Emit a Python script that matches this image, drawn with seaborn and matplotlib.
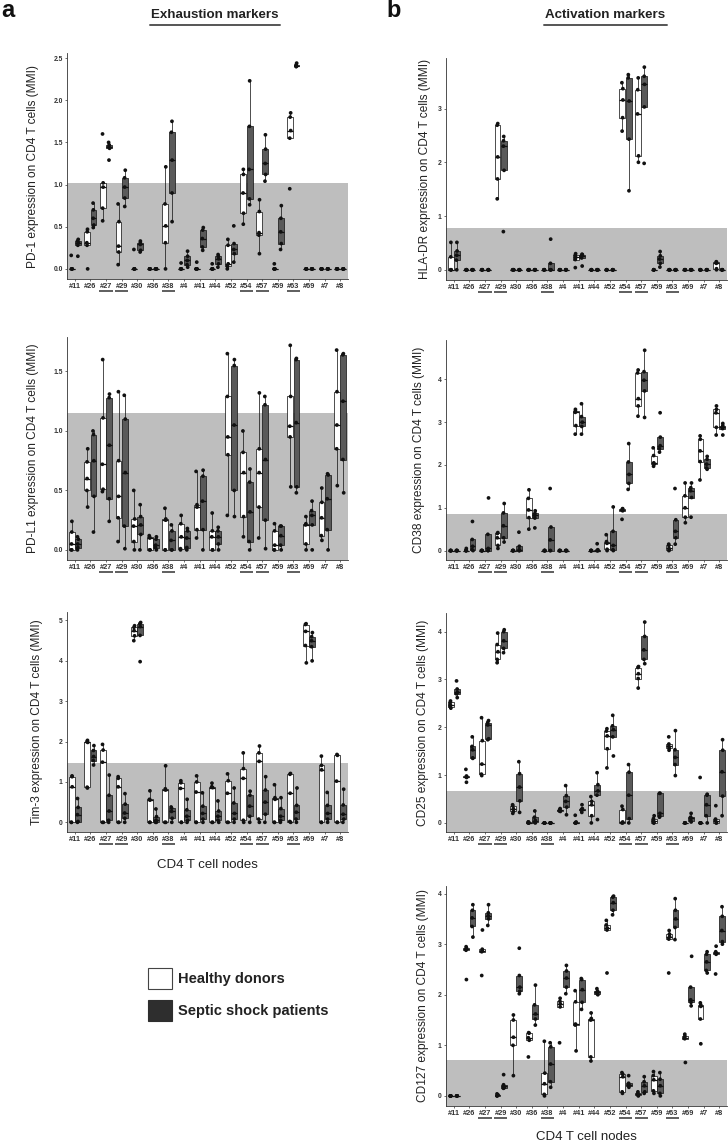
import numpy as np
import pandas as pd
import matplotlib
matplotlib.use("Agg")
import matplotlib.pyplot as plt
import matplotlib.transforms as mtransforms
from matplotlib.lines import Line2D
from matplotlib.patches import Rectangle
from matplotlib.ticker import FormatStrFormatter
import seaborn as sns

# ---------------- data ----------------
NODES = ["#11", "#26", "#27", "#29", "#30", "#36", "#38", "#4", "#41", "#44",
         "#52", "#54", "#57", "#59", "#63", "#69", "#7", "#8"]
UNDERLINED = ["#27", "#29", "#38", "#54", "#57", "#63"]
GROUPS = ["Healthy donors", "Septic shock patients"]

PD1_H = [[0, 0, 0, 0, 0.16], [0, 0.28, 0.31, 0.44, 0.47], [0.57, 0.72, 0.97, 1.02, 1.6],
         [0.05, 0.2, 0.27, 0.56, 0.77], [0, 0, 0, 0, 0.23], [0, 0, 0, 0, 0],
         [0, 0.31, 0.51, 0.77, 1.21], [0, 0, 0, 0, 0.07], [0, 0, 0, 0, 0.08],
         [0, 0, 0, 0, 0.06], [0, 0.03, 0.06, 0.28, 0.35], [0.53, 0.66, 0.9, 1.12, 1.18],
         [0.18, 0.4, 0.43, 0.68, 0.82], [0, 0, 0, 0, 0.06], [0.95, 1.55, 1.64, 1.8, 1.85],
         [0, 0, 0, 0, 0], [0, 0, 0, 0, 0], [0, 0, 0, 0, 0]]
PD1_S = [[0.15, 0.28, 0.31, 0.33, 0.35], [0.49, 0.52, 0.6, 0.7, 0.78], [1.29, 1.43, 1.45, 1.47, 1.5],
         [0.74, 0.84, 0.97, 1.08, 1.17], [0.2, 0.22, 0.29, 0.31, 0.33], [0, 0, 0, 0, 0],
         [0.56, 0.9, 1.29, 1.62, 1.75], [0.02, 0.05, 0.1, 0.15, 0.21], [0.22, 0.26, 0.36, 0.46, 0.49],
         [0.02, 0.06, 0.12, 0.15, 0.17], [0.08, 0.18, 0.23, 0.3, 0.51], [0.76, 0.83, 1.18, 1.69, 2.23],
         [1.04, 1.12, 1.25, 1.42, 1.59], [0.23, 0.3, 0.44, 0.6, 0.75], [2.4, 2.4, 2.41, 2.42, 2.44],
         [0, 0, 0, 0, 0], [0, 0, 0, 0, 0], [0, 0, 0, 0, 0]]

PDL1_H = [[0, 0, 0.05, 0.15, 0.24], [0.36, 0.5, 0.6, 0.74, 0.85], [0.49, 0.51, 0.72, 1.11, 1.6],
          [0.07, 0.27, 0.45, 0.75, 1.33], [0, 0.07, 0.2, 0.26, 0.5], [0, 0, 0.1, 0.11, 0.12],
          [0, 0, 0.25, 0.26, 0.35], [0, 0.01, 0.11, 0.22, 0.29], [0.1, 0.17, 0.36, 0.38, 0.66],
          [0, 0, 0.11, 0.16, 0.31], [0.29, 0.8, 0.95, 1.29, 1.65], [0.11, 0.28, 0.65, 0.82, 1.0],
          [0.1, 0.36, 0.65, 0.85, 1.32], [0, 0, 0.04, 0.16, 0.22], [0.53, 0.95, 1.04, 1.29, 1.72],
          [0, 0.05, 0.21, 0.22, 0.28], [0.08, 0.12, 0.27, 0.4, 0.52], [0.54, 0.85, 1.05, 1.33, 1.68]]
PDL1_S = [[0, 0.02, 0.05, 0.09, 0.11], [0.15, 0.45, 0.75, 0.97, 1.0], [0.24, 0.43, 0.88, 1.28, 1.31],
          [0.01, 0.2, 0.65, 1.1, 1.3], [0, 0.13, 0.21, 0.28, 0.38], [0, 0.02, 0.04, 0.09, 0.11],
          [0, 0, 0.08, 0.16, 0.21], [0, 0.02, 0.1, 0.16, 0.18], [0, 0.17, 0.41, 0.62, 0.67],
          [0, 0.05, 0.11, 0.16, 0.19], [0.28, 0.5, 1.05, 1.55, 1.6], [0, 0.07, 0.32, 0.57, 0.68],
          [0.01, 0.25, 0.76, 1.22, 1.29], [0, 0.04, 0.12, 0.2, 0.2], [0.48, 0.53, 1.07, 1.6, 1.61],
          [0, 0.21, 0.29, 0.33, 0.41], [0, 0.17, 0.43, 0.63, 0.64], [0.48, 0.76, 1.25, 1.64, 1.65]]

TIM3_H = [[0, 0, 0.88, 1.13, 1.15], [0.85, 0.87, 1.98, 2.0, 2.03], [0, 0, 1.49, 1.79, 1.93],
          [0, 0, 0.88, 1.09, 1.13], [4.5, 4.62, 4.75, 4.83, 4.87], [0, 0, 0.55, 0.57, 0.78],
          [0, 0, 0.8, 0.83, 1.4], [0, 0, 0.84, 0.98, 1.03], [0, 0, 0.75, 1.0, 1.15],
          [0, 0, 0.86, 0.88, 0.97], [0, 0, 0.72, 1.03, 1.2], [0, 0.05, 1.09, 1.33, 1.72],
          [0, 0.08, 1.51, 1.72, 1.89], [0, 0, 0.57, 0.61, 0.93], [0, 0.02, 0.72, 1.19, 1.21],
          [3.95, 4.38, 4.73, 4.9, 4.92], [0, 0, 1.3, 1.41, 1.64], [0, 0, 1.02, 1.66, 1.68]]
TIM3_S = [[0, 0.02, 0.19, 0.37, 0.59], [1.42, 1.53, 1.63, 1.78, 1.9], [0, 0.05, 0.28, 0.67, 1.17],
          [0, 0.1, 0.23, 0.45, 0.71], [3.98, 4.63, 4.85, 4.92, 4.95], [0, 0, 0.05, 0.14, 0.33],
          [0, 0.1, 0.27, 0.35, 0.38], [0, 0.05, 0.15, 0.31, 0.57], [0, 0.08, 0.22, 0.4, 0.73],
          [0, 0.05, 0.15, 0.28, 0.53], [0, 0.08, 0.22, 0.48, 0.85], [0, 0.15, 0.4, 0.67, 0.77],
          [0, 0.2, 0.5, 0.8, 1.13], [0, 0.05, 0.15, 0.34, 0.61], [0, 0.08, 0.25, 0.42, 0.85],
          [4.0, 4.35, 4.5, 4.6, 4.7], [0, 0.08, 0.22, 0.42, 0.74], [0, 0.08, 0.2, 0.43, 0.82]]

HLADR_H = [[0, 0, 0, 0.24, 0.51], [0, 0, 0, 0, 0], [0, 0, 0, 0, 0], [1.32, 1.69, 2.1, 2.69, 2.72],
           [0, 0, 0, 0, 0], [0, 0, 0, 0, 0], [0, 0, 0, 0, 0], [0, 0, 0, 0, 0],
           [0.04, 0.19, 0.23, 0.27, 0.3], [0, 0, 0, 0, 0], [0, 0, 0, 0, 0],
           [2.58, 2.83, 3.16, 3.37, 3.48], [2.0, 2.12, 2.9, 3.35, 3.57], [0, 0, 0, 0, 0],
           [0, 0, 0, 0, 0], [0, 0, 0, 0, 0], [0, 0, 0, 0, 0], [0, 0.02, 0.12, 0.14, 0.15]]
HLADR_S = [[0, 0.18, 0.27, 0.35, 0.51], [0, 0, 0, 0, 0], [0, 0, 0, 0, 0], [0.71, 1.85, 2.3, 2.4, 2.48],
           [0, 0, 0, 0, 0], [0, 0, 0, 0, 0], [0, 0, 0, 0.12, 0.57], [0, 0, 0, 0, 0],
           [0.07, 0.22, 0.26, 0.28, 0.29], [0, 0, 0, 0, 0], [0, 0, 0, 0, 0],
           [1.47, 2.43, 3.14, 3.57, 3.63], [1.98, 3.03, 3.45, 3.6, 3.77], [0.05, 0.12, 0.2, 0.26, 0.34],
           [0, 0, 0, 0, 0], [0, 0, 0, 0, 0], [0, 0, 0, 0, 0], [0, 0, 0, 0, 0]]

CD38_H = [[0, 0, 0, 0, 0], [0, 0, 0, 0, 0.05], [0, 0, 0, 0, 0], [0.05, 0.12, 0.3, 0.4, 0.42],
          [0, 0, 0, 0, 0], [0.5, 0.77, 0.95, 1.22, 1.42], [0, 0, 0, 0, 0], [0, 0, 0, 0, 0],
          [2.72, 2.92, 3.23, 3.26, 3.3], [0, 0, 0, 0, 0], [0, 0.03, 0.17, 0.21, 0.37],
          [0.73, 0.93, 0.95, 0.97, 0.98], [3.14, 3.38, 3.55, 4.15, 4.22], [1.97, 2.02, 2.05, 2.22, 2.4],
          [0, 0.02, 0.05, 0.12, 0.15], [0.65, 0.78, 1.0, 1.28, 1.58], [1.65, 2.08, 2.33, 2.6, 2.68],
          [2.7, 2.88, 3.22, 3.3, 3.38]]
CD38_S = [[0, 0, 0, 0, 0], [0, 0.02, 0.1, 0.26, 0.68], [0, 0, 0.05, 0.38, 1.23], [0.2, 0.3, 0.58, 0.88, 1.1],
          [0, 0, 0.02, 0.1, 0.43], [0.53, 0.76, 0.82, 0.87, 0.93], [0, 0, 0.25, 0.55, 1.45],
          [0, 0, 0, 0, 0], [2.72, 2.9, 3.0, 3.13, 3.43], [0, 0, 0, 0.02, 0.16],
          [0, 0.02, 0.12, 0.45, 1.02], [1.43, 1.57, 1.78, 2.07, 2.5], [3.11, 3.73, 3.98, 4.18, 4.68],
          [2.3, 2.38, 2.45, 2.65, 3.22], [0.15, 0.3, 0.45, 0.72, 1.45], [0.78, 1.24, 1.4, 1.47, 1.58],
          [1.9, 1.93, 2.02, 2.13, 2.2], [2.7, 2.85, 2.88, 2.92, 2.97]]

CD25_H = [[2.4, 2.43, 2.47, 2.52, 2.55], [0.85, 0.95, 0.97, 0.98, 1.12], [0.99, 1.02, 1.23, 1.72, 2.2],
          [3.35, 3.42, 3.58, 3.73, 3.97], [0.2, 0.24, 0.3, 0.36, 0.38], [0, 0, 0, 0.02, 0.02],
          [0, 0, 0, 0, 0], [0.24, 0.25, 0.26, 0.28, 0.3], [0, 0, 0, 0.02, 0.16],
          [0, 0.15, 0.38, 0.45, 0.55], [1.15, 1.55, 1.82, 1.92, 1.97], [0, 0, 0.02, 0.28, 0.35],
          [2.82, 3.02, 3.12, 3.25, 3.27], [0, 0, 0.05, 0.09, 0.15], [1.52, 1.56, 1.6, 1.65, 1.8],
          [0, 0, 0, 0, 0], [0, 0, 0, 0, 0.95], [0, 0, 0.05, 0.08, 0.36]]
CD25_S = [[2.62, 2.7, 2.73, 2.8, 2.97], [1.35, 1.36, 1.53, 1.6, 1.8], [1.74, 1.76, 2.05, 2.1, 2.14],
          [3.56, 3.65, 3.81, 4.0, 4.04], [0.22, 0.46, 0.75, 1.03, 1.28], [0, 0.01, 0.05, 0.12, 0.25],
          [0, 0, 0, 0, 0], [0.17, 0.33, 0.45, 0.57, 0.78], [0.22, 0.26, 0.28, 0.3, 0.38],
          [0.07, 0.58, 0.67, 0.8, 1.05], [1.4, 1.8, 1.95, 2.03, 2.25], [0, 0.09, 0.58, 1.06, 1.22],
          [3.33, 3.42, 3.62, 3.9, 4.2], [0.12, 0.14, 0.2, 0.62, 0.62], [0.99, 1.22, 1.37, 1.53, 1.93],
          [0.02, 0.05, 0.1, 0.12, 0.2], [0, 0.15, 0.38, 0.58, 0.6], [0.15, 0.56, 1.07, 1.52, 1.74]]

CD127_H = [[0, 0, 0, 0, 0], [2.3, 2.88, 2.9, 2.92, 2.95], [2.38, 2.85, 2.87, 2.9, 3.28],
           [0, 0, 0.01, 0.02, 0.04], [0.4, 1.0, 1.16, 1.5, 1.6], [0.77, 1.1, 1.15, 1.24, 1.25],
           [0, 0.03, 0.24, 0.45, 1.08], [1.05, 1.76, 1.82, 1.87, 1.93], [0.89, 1.4, 1.42, 1.86, 2.08],
           [0.69, 0.77, 1.5, 1.53, 1.64], [2.43, 3.28, 3.32, 3.38, 3.47], [0.05, 0.08, 0.38, 0.43, 0.46],
           [0, 0.01, 0.03, 0.05, 0.08], [0.05, 0.1, 0.32, 0.4, 0.48], [2.43, 3.1, 3.15, 3.2, 3.27],
           [0.66, 1.13, 1.15, 1.18, 1.22], [1.03, 1.52, 1.77, 1.8, 1.84], [2.41, 2.8, 2.82, 2.85, 2.96]]
CD127_S = [[0, 0, 0, 0, 0], [3.14, 3.35, 3.52, 3.67, 3.78], [3.37, 3.5, 3.56, 3.62, 3.78],
           [0.15, 0.16, 0.19, 0.22, 0.42], [2.02, 2.07, 2.15, 2.38, 2.92], [1.4, 1.52, 1.62, 1.8, 2.19],
           [0.17, 0.28, 0.63, 0.97, 1.05], [2.02, 2.15, 2.33, 2.47, 2.58], [1.71, 1.85, 2.1, 2.3, 2.32],
           [2.0, 2.02, 2.05, 2.07, 2.12], [3.58, 3.67, 3.82, 3.93, 3.95], [0.17, 0.2, 0.22, 0.25, 0.4],
           [0.05, 0.08, 0.2, 0.28, 0.38], [0, 0.05, 0.2, 0.33, 0.46], [3.09, 3.33, 3.5, 3.67, 3.9],
           [1.78, 1.85, 1.9, 2.15, 2.76], [2.43, 2.48, 2.65, 2.8, 2.85], [3.0, 3.05, 3.27, 3.55, 3.74]]

# grey "normal range" thresholds
THRESH = {"PD-1": 1.02, "PD-L1": 1.15, "Tim-3": 1.47,
          "HLA-DR": 0.78, "CD38": 0.85, "CD25": 0.67, "CD127": 0.71}

# ---------------- style ----------------
sns.set_theme(style="white")
plt.rcParams["font.family"] = ["Liberation Sans", "DejaVu Sans"]
GREY = "#bebebe"
DARK_BOX = "#5a5a5a"
TXT = "#222222"

W, H = 728, 1143
fig = plt.figure(figsize=(W / 100, H / 100), dpi=100)


def rect(l, t, r, b):
    return [l / W, 1 - b / H, (r - l) / W, (b - t) / H]


def panel(box, healthy, septic, marker, ylim, yticks, yfmt, ylab_x):
    ax = fig.add_axes(box)
    rows = []
    for node, hv, sv in zip(NODES, healthy, septic):
        rows += [(node, GROUPS[0], v) for v in hv]
        rows += [(node, GROUPS[1], v) for v in sv]
    df = pd.DataFrame(rows, columns=["node", "group", "value"])
    ax.axhspan(ylim[0], THRESH[marker], color=GREY, lw=0, zorder=0)
    sns.boxplot(data=df, x="node", y="value", hue="group", order=NODES, hue_order=GROUPS,
                palette={GROUPS[0]: "white", GROUPS[1]: DARK_BOX}, width=0.8, gap=0.06,
                linewidth=0.55, linecolor="#1c1c1c", showcaps=False, showfliers=False,
                medianprops=dict(color="#111111", linewidth=0.9), legend=False, ax=ax)
    sns.stripplot(data=df, x="node", y="value", hue="group", order=NODES, hue_order=GROUPS,
                  palette={GROUPS[0]: "#111111", GROUPS[1]: "#111111"}, dodge=True, jitter=0.07,
                  size=2.7, linewidth=0, legend=False, ax=ax, zorder=4)
    ax.set_xlim(-0.5, len(NODES) - 0.5)
    ax.set_ylim(*ylim)
    ax.set_yticks(yticks)
    ax.yaxis.set_major_formatter(FormatStrFormatter(yfmt))
    ax.set_xlabel("")
    ax.set_ylabel(f"{marker} expression on CD4 T cells (MMI)", fontsize=8.6, color=TXT)
    ax.yaxis.set_label_coords(ylab_x, 0.5)
    for s in ["top", "right"]:
        ax.spines[s].set_visible(False)
    for s in ["left", "bottom"]:
        ax.spines[s].set_color("#333333")
        ax.spines[s].set_linewidth(0.6)
    ax.tick_params(axis="both", length=1.6, width=0.5, color="#333333",
                   labelcolor="#333333", pad=1.5, left=True, bottom=True)
    ax.tick_params(axis="x", labelsize=5.3)
    ax.tick_params(axis="y", labelsize=4.9)
    for lab in ax.get_xticklabels() + ax.get_yticklabels():
        lab.set_fontweight("bold")
    # underline selected nodes
    trans = mtransforms.blended_transform_factory(ax.transData, ax.transAxes)
    off = mtransforms.ScaledTranslation(0, -0.115, fig.dpi_scale_trans)
    for node in UNDERLINED:
        i = NODES.index(node)
        ax.plot([i - 0.42, i + 0.42], [0, 0], transform=trans + off, clip_on=False,
                color="#333333", lw=1.1, solid_capstyle="butt")
    return ax


LX0, LX1 = 67, 348
RX0, RX1 = 446, 727

panel(rect(LX0, 53, LX1, 279), PD1_H, PD1_S, "PD-1", (-0.12, 2.56),
      [0, 0.5, 1.0, 1.5, 2.0, 2.5], "%.1f", -0.10)
panel(rect(LX0, 337, LX1, 560), PDL1_H, PDL1_S, "PD-L1", (-0.085, 1.79),
      [0, 0.5, 1.0, 1.5], "%.1f", -0.10)
panel(rect(LX0, 612, LX1, 832), TIM3_H, TIM3_S, "Tim-3", (-0.24, 5.21),
      [0, 1, 2, 3, 4, 5], "%d", -0.085)

panel(rect(RX0, 58, RX1, 280), HLADR_H, HLADR_S, "HLA-DR", (-0.19, 3.94),
      [0, 1, 2, 3], "%d", -0.055)
panel(rect(RX0, 340, RX1, 560), CD38_H, CD38_S, "CD38", (-0.22, 4.92),
      [0, 1, 2, 3, 4], "%d", -0.075)
panel(rect(RX0, 613, RX1, 832), CD25_H, CD25_S, "CD25", (-0.19, 4.39),
      [0, 1, 2, 3, 4], "%d", -0.06)
panel(rect(RX0, 886, RX1, 1106), CD127_H, CD127_S, "CD127", (-0.2, 4.15),
      [0, 1, 2, 3, 4], "%d", -0.06)

# x axis titles
fig.text((LX0 + LX1) / 2 / W, 1 - 865 / H, "CD4 T cell nodes", ha="center", va="center",
         fontsize=9.5, color=TXT)
fig.text((RX0 + RX1) / 2 / W, 1 - 1137 / H, "CD4 T cell nodes", ha="center", va="center",
         fontsize=9.5, color=TXT)

# panel letters and headers
fig.text(1 / W, 1 - 17 / H, "a", fontsize=17, fontweight="bold", color="#111111", va="baseline")
fig.text(386 / W, 1 - 17 / H, "b", fontsize=17, fontweight="bold", color="#111111", va="baseline")
fig.text(215 / W, 1 - 15 / H, "Exhaustion markers", ha="center", va="center",
         fontsize=9.6, fontweight="bold", color=TXT)
fig.text(605 / W, 1 - 15 / H, "Activation markers", ha="center", va="center",
         fontsize=9.6, fontweight="bold", color=TXT)
fig.add_artist(Line2D([150 / W, 280 / W], [1 - 24.5 / H, 1 - 24.5 / H], transform=fig.transFigure,
                      color="#555555", lw=1.4))
fig.add_artist(Line2D([544 / W, 667 / W], [1 - 24.5 / H, 1 - 24.5 / H], transform=fig.transFigure,
                      color="#555555", lw=1.4))

# legend
fig.add_artist(Rectangle((148 / W, 1 - 989 / H), 24 / W, 21 / H, transform=fig.transFigure,
                         facecolor="white", edgecolor="#444444", lw=0.8))
fig.add_artist(Rectangle((148 / W, 1 - 1021 / H), 24 / W, 21 / H, transform=fig.transFigure,
                         facecolor="#2e2e2e", edgecolor="#2e2e2e", lw=0.8))
fig.text(178 / W, 1 - 978.5 / H, GROUPS[0], va="center", ha="left", fontsize=10.5,
         fontweight="bold", color=TXT)
fig.text(178 / W, 1 - 1010.5 / H, GROUPS[1], va="center", ha="left", fontsize=10.5,
         fontweight="bold", color=TXT)

fig.savefig("out.png", dpi=100)
